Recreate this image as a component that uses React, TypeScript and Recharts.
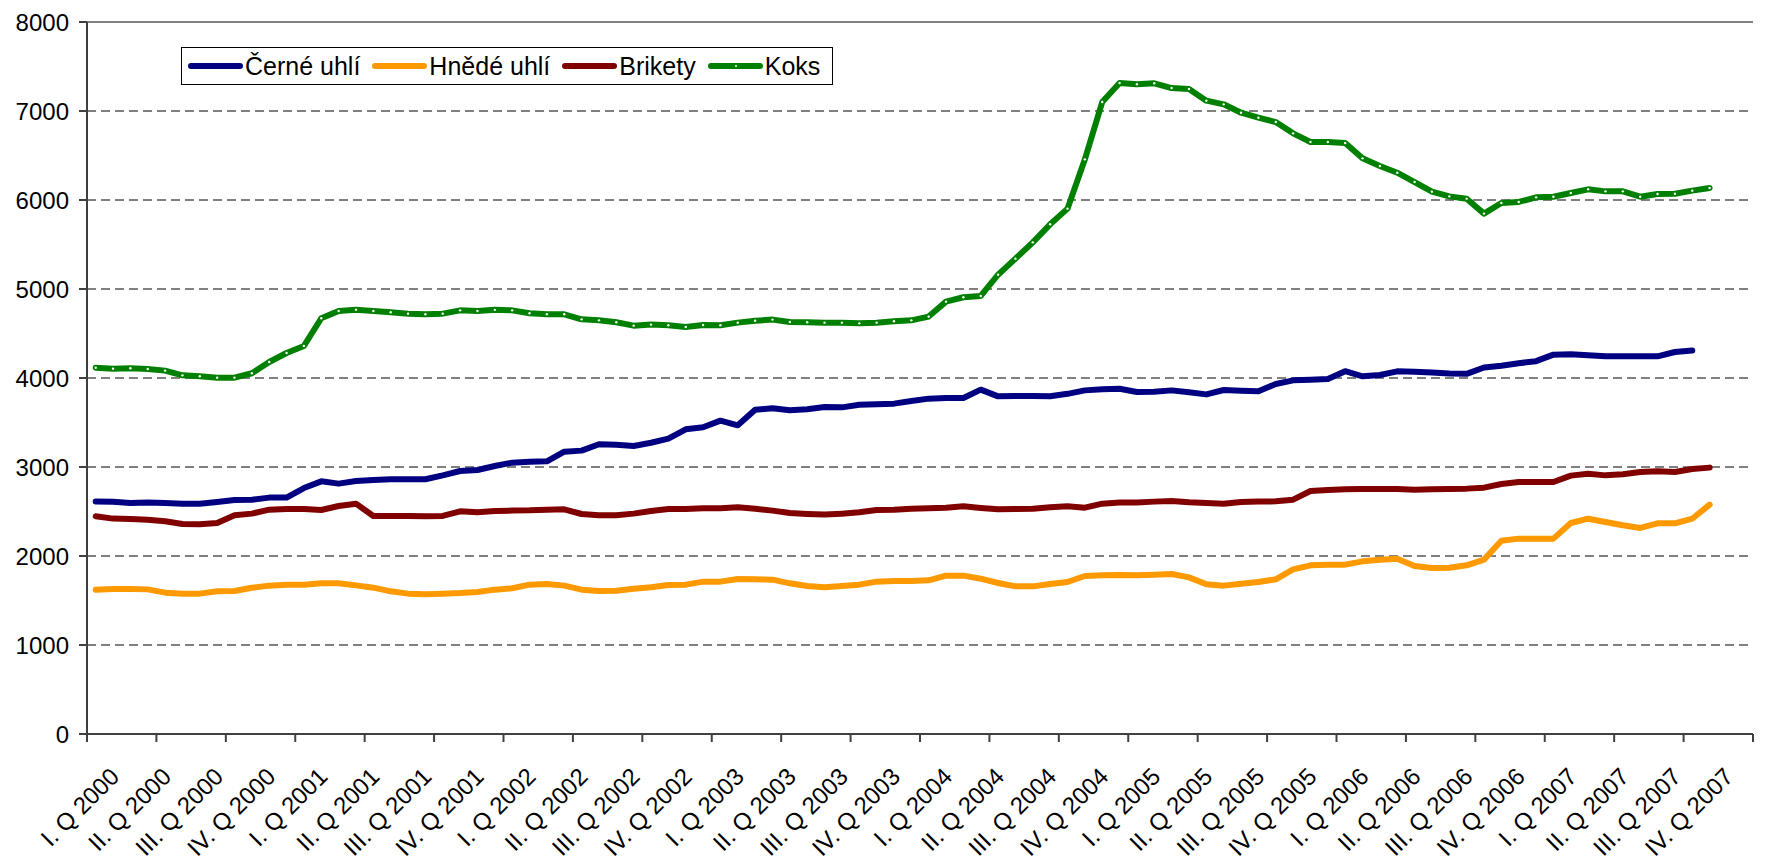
import React from 'react';
import { LineChart, Line, XAxis, YAxis, CartesianGrid, ReferenceLine } from 'recharts';

// quarter labels, one for every third month
const quarterLabels = [
    'I. Q 2000', 'II. Q 2000', 'III. Q 2000', 'IV. Q 2000',
    'I. Q 2001', 'II. Q 2001', 'III. Q 2001', 'IV. Q 2001',
    'I. Q 2002', 'II. Q 2002', 'III. Q 2002', 'IV. Q 2002',
    'I. Q 2003', 'II. Q 2003', 'III. Q 2003', 'IV. Q 2003',
    'I. Q 2004', 'II. Q 2004', 'III. Q 2004', 'IV. Q 2004',
    'I. Q 2005', 'II. Q 2005', 'III. Q 2005', 'IV. Q 2005',
    'I. Q 2006', 'II. Q 2006', 'III. Q 2006', 'IV. Q 2006',
    'I. Q 2007', 'II. Q 2007', 'III. Q 2007', 'IV. Q 2007',
];

const monthCount = 96;

// monthly values, Jan 2000 onwards
const cerneUhli = [
    2612, 2610, 2596, 2601, 2596, 2588, 2588, 2607, 2629, 2633, 2656, 2656,
    2764, 2839, 2813, 2843, 2854, 2862, 2862, 2862, 2906, 2955, 2966, 3011,
    3049, 3060, 3064, 3172, 3184, 3255, 3251, 3236, 3273, 3318, 3423, 3446,
    3521, 3468, 3644, 3659, 3637, 3648, 3674, 3670, 3700, 3704, 3712, 3742,
    3768, 3775, 3775, 3869, 3794, 3798, 3798, 3794, 3822, 3861, 3873, 3880,
    3843, 3846, 3861, 3839, 3816, 3865, 3858, 3850, 3933, 3974, 3981, 3989,
    4077, 4019, 4034, 4075, 4070, 4062, 4050, 4047, 4118, 4138, 4166, 4189,
    4262, 4268, 4256, 4244, 4245, 4244, 4243, 4292, 4309,
];

const hnedeUhli = [
    1622, 1629, 1629, 1625, 1588, 1577, 1577, 1603, 1607, 1644, 1667, 1678,
    1678, 1693, 1693, 1670, 1644, 1603, 1577, 1569, 1577, 1584, 1596, 1622,
    1637, 1678, 1685, 1667, 1622, 1607, 1610, 1633, 1648, 1674, 1678, 1712,
    1712, 1742, 1738, 1734, 1693, 1663, 1648, 1663, 1678, 1712, 1719, 1719,
    1727, 1779, 1779, 1745, 1697, 1659, 1659, 1685, 1708, 1775, 1783, 1787,
    1783, 1790, 1798, 1760, 1682, 1667, 1689, 1708, 1738, 1850, 1895, 1903,
    1903, 1940, 1959, 1970, 1888, 1865, 1869, 1895, 1959, 2172, 2195, 2195,
    2195, 2371, 2419, 2382, 2345, 2315, 2367, 2367, 2419, 2577,
];

const brikety = [
    2446, 2420, 2416, 2408, 2390, 2360, 2356, 2371, 2457, 2476, 2521, 2528,
    2528, 2517, 2562, 2588, 2450, 2450, 2450, 2446, 2450, 2502, 2491, 2506,
    2510, 2513, 2521, 2525, 2472, 2457, 2457, 2476, 2506, 2528, 2528, 2536,
    2536, 2547, 2532, 2510, 2483, 2472, 2465, 2476, 2491, 2517, 2521, 2532,
    2536, 2543, 2558, 2540, 2525, 2528, 2532, 2547, 2558, 2543, 2588, 2600,
    2600, 2611, 2618, 2603, 2596, 2588, 2607, 2611, 2614, 2633, 2730, 2742,
    2749, 2753, 2753, 2753, 2745, 2749, 2753, 2757, 2768, 2809, 2832, 2832,
    2832, 2903, 2925, 2906, 2918, 2944, 2951, 2944, 2978, 2993,
];

const koks = [
    4116, 4105, 4109, 4101, 4083, 4030, 4019, 4004, 4004, 4053, 4180, 4281,
    4360, 4671, 4753, 4768, 4753, 4738, 4723, 4716, 4723, 4760, 4753, 4766,
    4760, 4727, 4716, 4716, 4659, 4648, 4626, 4588, 4600, 4592, 4573, 4596,
    4592, 4622, 4644, 4656, 4629, 4626, 4622, 4622, 4614, 4622, 4637, 4648,
    4690, 4858, 4907, 4922, 5161, 5341, 5524, 5727, 5903, 6457, 7101, 7315,
    7300, 7311, 7258, 7247, 7116, 7075, 6981, 6925, 6876, 6749, 6652, 6652,
    6640, 6468, 6382, 6307, 6202, 6094, 6041, 6015, 5847, 5966, 5978, 6030,
    6037, 6079, 6120, 6097, 6097, 6037, 6067, 6071, 6105, 6135,
];

const yTicks = [0, 1000, 2000, 3000, 4000, 5000, 6000, 7000, 8000];

const series = [
    { key: 'cerne', name: 'Černé uhlí', color: '#000080' },
    { key: 'hnede', name: 'Hnědé uhlí', color: '#FF9900' },
    { key: 'brikety', name: 'Brikety', color: '#800000' },
    { key: 'koks', name: 'Koks', color: '#008000' },
];

const FONT = '"Liberation Sans", Arial, sans-serif';

const chartData = koks.map((_, i) => ({
    pos: i + 0.5,
    cerne: i < cerneUhli.length ? cerneUhli[i] : null,
    hnede: hnedeUhli[i],
    brikety: brikety[i],
    koks: koks[i],
}));

// tick marks every 4 months, labels in the middle of each quarter's first month
const tickMarks = Array.from({ length: monthCount / 4 + 1 }, (_, i) => i * 4);
const labelTicks = quarterLabels.map((_, i) => i * 3 + 0.5);
const xTicks = [...tickMarks, ...labelTicks].sort((a, b) => a - b);

const XTick = (props: any) => {
    const { x, y, payload } = props;
    const v = payload.value;
    if (Number.isInteger(v)) {
        return <line x1={x} x2={x} y1={y} y2={y + 8} stroke="#404040" strokeWidth={2} />;
    }
    const label = quarterLabels[Math.round((v - 0.5) / 3)];
    const tx = x + 25;
    const ty = y + 44;
    return (
        <text
            x={tx}
            y={ty}
            transform={`rotate(-45 ${tx} ${ty})`}
            textAnchor="end"
            fontSize={24}
            fontFamily={FONT}
            fill="#000"
        >
            {label}
        </text>
    );
};

const WhiteDot = (props: any) => {
    const { cx, cy, index } = props;
    if (cx == null || cy == null) return <g key={index} />;
    return <circle key={index} cx={cx} cy={cy} r={1.2} fill="#ffffff" stroke="none" />;
};

const ChartLegend = () => (
    <div
        style={{
            position: 'absolute',
            left: 181,
            top: 47,
            height: 36,
            border: '1px solid #000',
            background: '#fff',
            display: 'flex',
            alignItems: 'center',
            paddingLeft: 6,
            paddingRight: 12,
            gap: 12,
            fontFamily: FONT,
            fontSize: 25,
            color: '#000',
        }}
    >
        {series.map(s => (
            <div key={s.key} style={{ display: 'flex', alignItems: 'center' }}>
                <span
                    style={{
                        display: 'inline-block',
                        width: 55,
                        height: 6,
                        borderRadius: 3,
                        background: s.color,
                        marginRight: 2,
                        position: 'relative',
                    }}
                >
                    {s.key === 'koks' && (
                        <span
                            style={{
                                position: 'absolute',
                                left: 27,
                                top: 2,
                                width: 2,
                                height: 2,
                                borderRadius: 1,
                                background: '#fff',
                            }}
                        />
                    )}
                </span>
                <span>{s.name}</span>
            </div>
        ))}
    </div>
);

const App: React.FC = () => {
    return (
        <div style={{ position: 'absolute', left: 0, top: 0, width: 1767, height: 866, background: '#fff' }}>
            <LineChart
                width={1767}
                height={866}
                data={chartData}
                margin={{ top: 22, right: 14, bottom: 12, left: 0 }}
            >
                <CartesianGrid vertical={false} stroke="#000" strokeDasharray="9 5" />
                <XAxis
                    dataKey="pos"
                    type="number"
                    domain={[0, monthCount]}
                    ticks={xTicks}
                    interval={0}
                    tick={<XTick />}
                    tickLine={false}
                    tickSize={0}
                    tickMargin={0}
                    height={120}
                    axisLine={{ stroke: '#404040', strokeWidth: 2 }}
                />
                <YAxis
                    domain={[0, 8000]}
                    ticks={yTicks}
                    interval={0}
                    width={87}
                    tickSize={8}
                    tickMargin={10}
                    tick={{ fontSize: 24, fill: '#000', fontFamily: FONT }}
                    axisLine={{ stroke: '#404040', strokeWidth: 2 }}
                    tickLine={{ stroke: '#404040', strokeWidth: 2 }}
                />
                <ReferenceLine y={8000} stroke="#808080" strokeWidth={2} />
                {series.map(s => (
                    <Line
                        key={s.key}
                        type="linear"
                        dataKey={s.key}
                        name={s.name}
                        stroke={s.color}
                        strokeWidth={6}
                        strokeLinejoin="round"
                        strokeLinecap="round"
                        dot={s.key === 'koks' ? <WhiteDot /> : false}
                        activeDot={false}
                        connectNulls={false}
                        isAnimationActive={false}
                    />
                ))}
            </LineChart>
            <ChartLegend />
        </div>
    );
};

export default App;
